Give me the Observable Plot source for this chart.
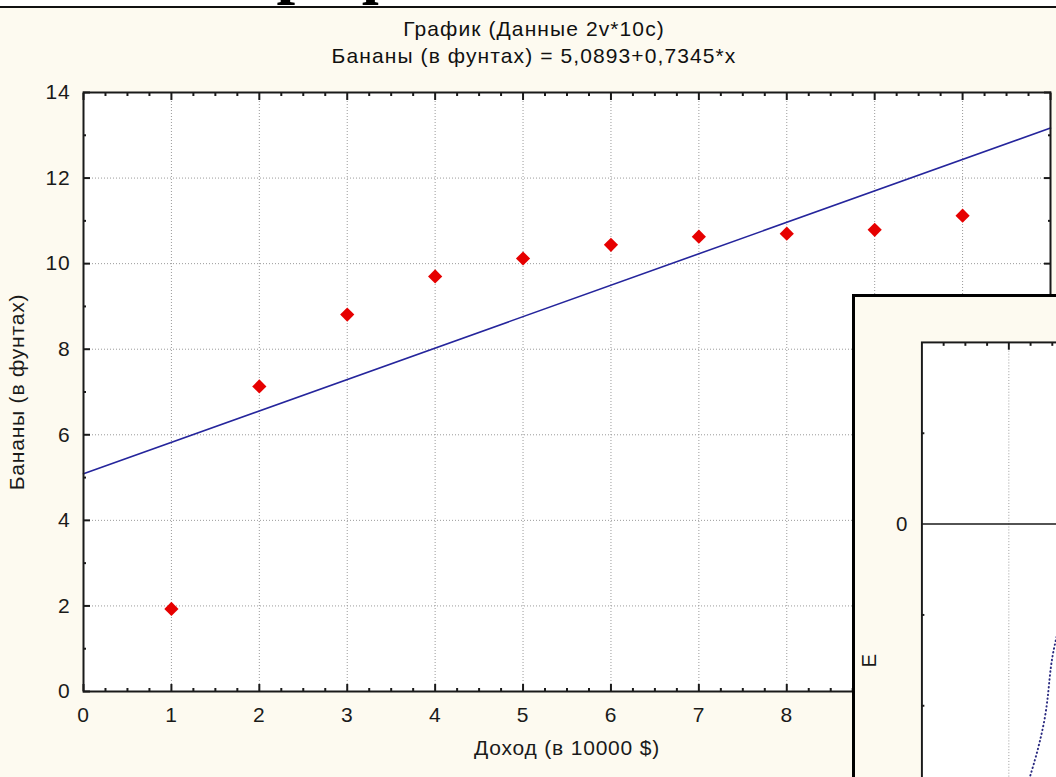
<!DOCTYPE html>
<html><head><meta charset="utf-8">
<script src="https://cdn.jsdelivr.net/npm/d3@7"></script>
<script src="https://cdn.jsdelivr.net/npm/@observablehq/plot@0.6"></script>
<style>
html,body{margin:0;padding:0;}
body{width:1056px;height:777px;overflow:hidden;position:relative;background:#fdfaf0;font-family:"Liberation Sans",Arial,sans-serif;}
#slideTitle{position:absolute;left:0;top:0;width:1056px;height:6px;background:#fff;overflow:hidden;}
#slideTitle span{position:absolute;left:238px;top:-65px;font:bold 67px/67px "Liberation Serif","Times New Roman",serif;color:#000;white-space:nowrap;}
#rule{position:absolute;left:0;top:6px;width:1056px;height:2px;background:#111;}
#title{position:absolute;left:0;top:15px;width:1068px;text-align:center;font-size:21px;letter-spacing:1.1px;color:#111;line-height:27px;}
#main{position:absolute;left:0;top:90px;}
#inset{position:absolute;left:852px;top:294px;width:420px;height:720px;border:3px solid #000;background:#fdfaf0;overflow:hidden;}
</style>
</head><body>
<div id="slideTitle"><span>График</span></div>
<div id="rule"></div>
<div id="title"><div>График  (Данные 2v*10c)</div><div>Бананы (в фунтах) = 5,0893+0,7345*x</div></div>
<div id="main"></div>
<div id="inset"></div>
<script>
// ---- data (main chart) ----
const income  = [1, 2, 3, 4, 5, 6, 7, 8, 9, 10];
const bananas = [1.93, 7.13, 8.81, 9.70, 10.12, 10.44, 10.63, 10.70, 10.79, 11.12];
const intercept = 5.0893;
const slope = 0.7345;
const xTickLabels = [0, 1, 2, 3, 4, 5, 6, 7, 8, 9, 10];
const xTicks = [0, 1, 2, 3, 4, 5, 6, 7, 8, 9, 10, 11];
const yTicks = [0, 2, 4, 6, 8, 10, 12, 14];
const xGridVals = [1, 2, 3, 4, 5, 6, 7, 8, 9, 10];
const yGridVals = [2, 4, 6, 8, 10, 12];
const xLabel = "Доход (в 10000 $)";
const yLabel = "Бананы (в фунтах)";

// ---- data (overlapping window fragment) ----
const insetXMajor = [1];
const insetYLabelled = [0];
const insetYMinor = [1, -1, -2];
const insetCurveX = [1.56, 1.483, 1.416, 1.281, 1.20];
const insetCurveY = [-1.2, -1.58, -2.12, -2.66, -2.9];
const insetYLabel = "Е";

const fitX = [0, 11];
const points = income.map((x, i) => ({x, y: bananas[i]}));
const fit = fitX.map(x => ({x, y: intercept + slope * x}));
const xMinor = d3.range(0, 11.001, 0.25).filter(v => Math.abs(v - Math.round(v)) > 1e-6);
const yMinor = d3.range(1, 14, 2);

const FONT = "Liberation Sans, Arial, sans-serif";
const INK = "#1a1a1a";
const gridStyle = {stroke: "#9a9a9a", strokeOpacity: 1, strokeDasharray: "1,2", strokeWidth: 1};
const baseStyle = {background: "transparent", fontFamily: FONT, fontSize: "21px", letterSpacing: "0.8px", color: INK, overflow: "visible"};

const main = Plot.plot({
  width: 1056, height: 687,
  marginTop: 2, marginBottom: 86, marginLeft: 83, marginRight: 6,
  style: baseStyle,
  x: {domain: [0, 11]},
  y: {domain: [0, 14]},
  marks: [
    Plot.frame({fill: "#ffffff", stroke: null}),
    Plot.gridX(xGridVals, gridStyle),
    Plot.gridY(yGridVals, gridStyle),
    Plot.line(fit, {x: "x", y: "y", stroke: "#25259c", strokeWidth: 1.6}),
    Plot.dot(points, {x: "x", y: "y", symbol: "diamond2", r: 6.4, fill: "#e60000", stroke: "none"}),
    // labels
    Plot.axisX(xTickLabels, {anchor: "bottom", tickSize: 0, tickPadding: 16, label: xLabel, labelAnchor: "center", labelOffset: 63, labelArrow: "none"}),
    Plot.axisY(yTicks, {anchor: "left", tickSize: 0, tickPadding: 13, label: yLabel, labelAnchor: "center", labelOffset: 74, labelArrow: "none"}),
    // inward ticks, all four sides
    Plot.axisX(xTicks, {anchor: "bottom", tickSize: -7, fill: "none", strokeWidth: 2, label: null}),
    Plot.axisX(xMinor, {anchor: "bottom", tickSize: -3, fill: "none", strokeWidth: 2, label: null}),
    Plot.axisX(xTicks, {anchor: "top", tickSize: -7, fill: "none", strokeWidth: 2, label: null}),
    Plot.axisX(xMinor, {anchor: "top", tickSize: -3, fill: "none", strokeWidth: 2, label: null}),
    Plot.axisY(yTicks, {anchor: "left", tickSize: -7, fill: "none", strokeWidth: 2, label: null}),
    Plot.axisY(yMinor, {anchor: "left", tickSize: -3, fill: "none", strokeWidth: 2, label: null}),
    Plot.axisY(yTicks, {anchor: "right", tickSize: -7, fill: "none", strokeWidth: 2, label: null}),
    Plot.axisY(yMinor, {anchor: "right", tickSize: -3, fill: "none", strokeWidth: 2, label: null}),
    Plot.frame({stroke: INK, strokeWidth: 2})
  ]
});
document.getElementById("main").append(main);

const insetMinorX = [0.25, 0.5, 0.75, 1.25, 1.5, 1.75, 2.25, 2.5, 2.75, 3.25, 3.5, 3.75];
const inset = Plot.plot({
  width: 430, height: 760,
  marginTop: 46, marginBottom: 63, marginLeft: 68, marginRight: 6,
  style: baseStyle,
  x: {domain: [0, 4]},
  y: {domain: [-5, 2]},
  marks: [
    Plot.frame({fill: "#ffffff", stroke: null}),
    Plot.gridX(insetXMajor, gridStyle),
    Plot.ruleY([0], {stroke: INK, strokeWidth: 1.6}),
    Plot.line(insetCurveX.map((x, i) => ({x, y: insetCurveY[i]})), {x: "x", y: "y", curve: "natural", stroke: "#2a2a80", strokeWidth: 2, strokeDasharray: "0.5,3.5", strokeLinecap: "round"}),
    Plot.axisY(insetYLabelled, {anchor: "left", tickSize: 0, tickPadding: 14, tickFormat: d3.format("d"), label: insetYLabel, labelAnchor: "center", labelOffset: 62, labelArrow: "none"}),
    Plot.axisX(insetXMajor, {anchor: "top", tickSize: -7, fill: "none", strokeWidth: 2, label: null}),
    Plot.axisX(insetMinorX, {anchor: "top", tickSize: -3, fill: "none", strokeWidth: 2, label: null}),
    Plot.axisY(insetYMinor, {anchor: "left", tickSize: -3, fill: "none", strokeWidth: 2, label: null}),
    Plot.frame({stroke: INK, strokeWidth: 2})
  ]
});
document.getElementById("inset").append(inset);
</script>
</body></html>
